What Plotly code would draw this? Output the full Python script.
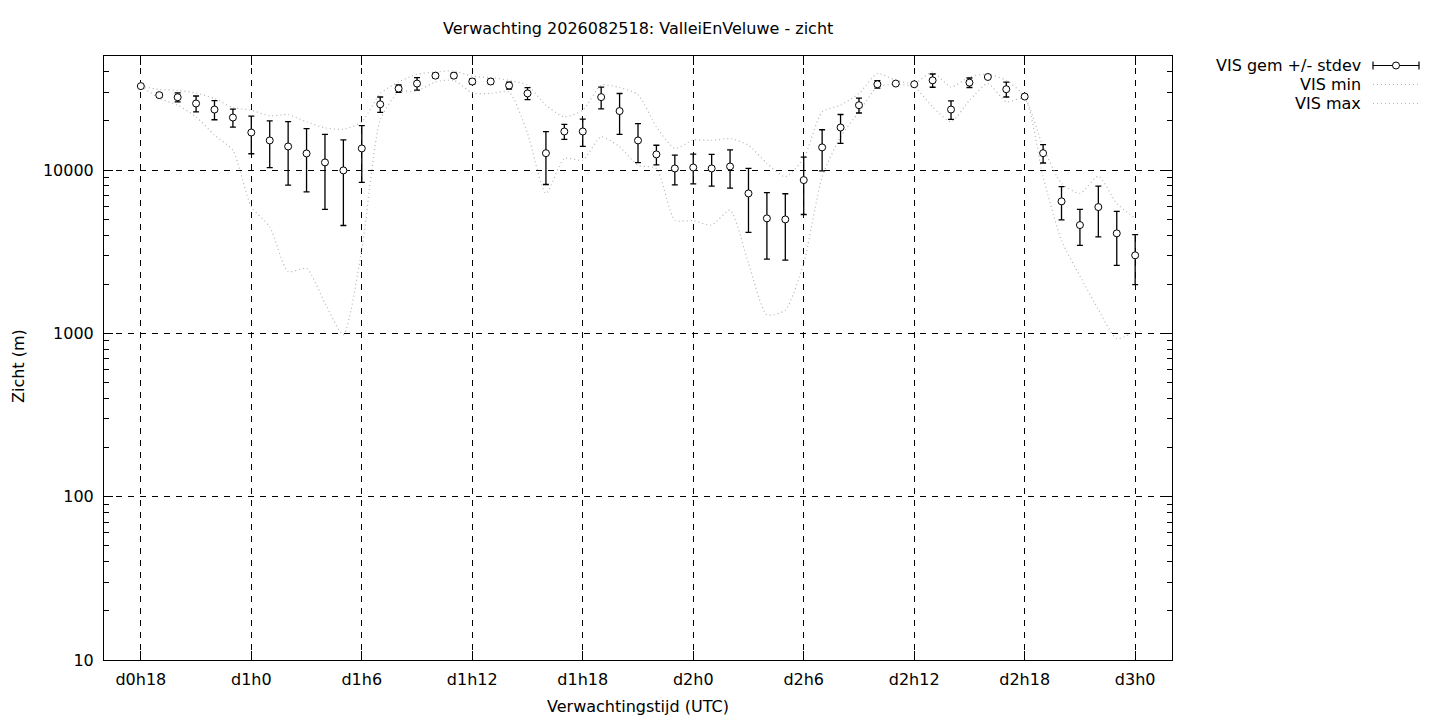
import plotly.graph_objects as go
import numpy as np

# forecast hours (relative to d0h0)
hours = list(range(18, 73))

vis_mean = [32700, 28800, 27960, 25600, 23500, 21000, 17000, 15200, 13960, 12650,
            11150, 9960, 13580, 25300, 31600, 33900, 37900, 37900, 34900, 34900,
            33000, 29500, 12700, 17250, 17250, 28000, 23000, 15200, 12480, 10240,
            10380, 10240, 10530, 7200, 5065, 4990, 8690, 13780, 18240, 24980,
            33570, 33900, 33570, 35480, 23500, 34360, 37200, 31300, 28230, 12700,
            6437, 4610, 5940, 4100, 3008]

vis_std = [0, 850, 1750, 2850, 3150, 2650, 4400, 4850, 5860, 5300,
           5400, 5380, 5170, 2750, 1625, 2980, 1180, 1340, 1270, 1185,
           1600, 2500, 4535, 1800, 3265, 4275, 6465, 4075, 1725, 2120,
           2150, 2265, 2770, 3040, 2210, 2180, 3340, 3890, 3670, 2600,
           1775, 0, 0, 3300, 3050, 2300, 0, 3260, 0, 1645,
           1480, 1145, 2035, 1490, 1016]

vis_min = [32700, 27500, 25000, 21200, 16400, 13200, 5970, 4500, 2390, 2500,
           1530, 980, 3250, 20200, 30100, 30500, 34700, 35500, 29700, 29500,
           30100, 16800, 7200, 11800, 11500, 16000, 13900, 10700, 10240, 4940,
           4900, 4610, 5690, 2690, 1300, 1390, 2690, 9100, 16000, 22750,
           32300, 33570, 32300, 24400, 19750, 26800, 33900, 26200, 27450, 9100,
           3700, 2250, 1400, 930, 1030]

vis_max = [32700, 31200, 30800, 29700, 27500, 24200, 23300, 21500, 21900, 19750,
           18150, 17800, 19750, 29450, 34700, 38650, 39900, 40500, 37600, 36900,
           35500, 33100, 25000, 21200, 23300, 33100, 32050, 29000, 18400, 13600,
           15300, 15200, 15600, 14200, 11000, 9100, 11800, 22750, 25000, 29450,
           39000, 35500, 33900, 39900, 32300, 37200, 38650, 35500, 28230, 13900,
           8290, 7200, 9190, 6250, 5070]

x_tickvals = [18, 24, 30, 36, 42, 48, 54, 60, 66, 72]
x_ticktext = ["d0h18", "d1h0", "d1h6", "d1h12", "d1h18", "d2h0", "d2h6", "d2h12", "d2h18", "d3h0"]
y_tickvals = [10, 100, 1000, 10000]
y_ticktext = ["10", "100", "1000", "10000"]
y_minor = [m * 10 ** e for e in range(1, 5) for m in range(2, 10) if m * 10 ** e <= 50000]

title_text = "Verwachting 2026082518: ValleiEnVeluwe - zicht"
x_title = "Verwachtingstijd (UTC)"
y_title = "Zicht (m)"
legend_labels = ["VIS gem +/- stdev", "VIS min", "VIS max"]

FONT = "DejaVu Sans"
FS = 16
OFF = 8  # page body margin
W, H = 1440 - OFF, 720 - OFF
# plot area in page pixels
L, R, T, B = 104, 1172, 56, 660
DOT = "1px,3px"
DOTCOL = "#b4b4b4"


def px(xp):
    return (xp - L) / (R - L)


def py(yp):
    return (B - yp) / (B - T)


fig = go.Figure()

fig.add_trace(go.Scatter(
    x=hours, y=vis_min, mode="lines", name=legend_labels[1],
    line=dict(color=DOTCOL, width=1.2, dash=DOT, shape="spline", smoothing=0.6),
    showlegend=False, hoverinfo="skip"))
fig.add_trace(go.Scatter(
    x=hours, y=vis_max, mode="lines", name=legend_labels[2],
    line=dict(color=DOTCOL, width=1.2, dash=DOT, shape="spline", smoothing=0.6),
    showlegend=False, hoverinfo="skip"))
fig.add_trace(go.Scatter(
    x=hours, y=vis_mean, mode="markers", name=legend_labels[0],
    marker=dict(symbol="circle", size=7, color="white", line=dict(color="black", width=1)),
    error_y=dict(type="data", array=vis_std, symmetric=True, color="black", thickness=1.3, width=3),
    showlegend=False))

axis_common = dict(
    showline=True, linecolor="black", linewidth=1, mirror="ticks",
    ticks="inside", tickcolor="black", ticklen=9, tickwidth=1,
    showgrid=True, gridcolor="black", gridwidth=1, griddash="6px,6px",
    zeroline=False, tickfont=dict(family=FONT, size=FS, color="black"),
)

fig.update_xaxes(range=[16, 74], tickmode="array", tickvals=x_tickvals, ticktext=x_ticktext,
                 ticklabelstandoff=5, **axis_common)
fig.update_yaxes(type="log", range=[1, np.log10(50000)], tickmode="array",
                 tickvals=y_tickvals, ticktext=y_ticktext, ticklabelstandoff=6,
                 minor=dict(tickvals=y_minor, ticks="inside", ticklen=5, tickcolor="black",
                            showgrid=False),
                 **axis_common)

annotations = [
    dict(text=title_text, xref="paper", yref="paper", x=px(638), y=py(29),
         xanchor="center", yanchor="middle", showarrow=False,
         font=dict(family=FONT, size=FS, color="black")),
    dict(text=x_title, xref="paper", yref="paper", x=px(638), y=py(706),
         xanchor="center", yanchor="middle", showarrow=False,
         font=dict(family=FONT, size=FS, color="black")),
    dict(text=y_title, xref="paper", yref="paper", x=px(18), y=py(366), textangle=-90,
         xanchor="center", yanchor="middle", showarrow=False,
         font=dict(family=FONT, size=FS, color="black")),
]
legend_y = [65.5, 84.5, 103.5]
for lab, ly in zip(legend_labels, legend_y):
    annotations.append(dict(text=lab, xref="paper", yref="paper", x=px(1363), y=py(ly),
                            xanchor="right", yanchor="middle", showarrow=False,
                            font=dict(family=FONT, size=FS, color="black")))

shapes = []
# legend sample: error bar with circle
ly = legend_y[0]
shapes.append(dict(type="line", xref="paper", yref="paper", x0=px(1373), x1=px(1419), y0=py(ly), y1=py(ly),
                   line=dict(color="black", width=1.2)))
for xe in (1373, 1419):
    shapes.append(dict(type="line", xref="paper", yref="paper", x0=px(xe), x1=px(xe), y0=py(ly - 4), y1=py(ly + 4),
                       line=dict(color="black", width=1.2)))
shapes.append(dict(type="circle", xref="paper", yref="paper", x0=px(1392.5), x1=px(1399.5),
                   y0=py(ly + 3.5), y1=py(ly - 3.5), fillcolor="white", line=dict(color="black", width=1)))
for ly in legend_y[1:]:
    shapes.append(dict(type="line", xref="paper", yref="paper", x0=px(1373), x1=px(1419), y0=py(ly), y1=py(ly),
                       line=dict(color=DOTCOL, width=1.2, dash=DOT)))

fig.update_layout(
    width=W, height=H, autosize=False,
    margin=dict(l=L - OFF, r=W - (R - OFF), t=T - OFF, b=H - (B - OFF), pad=0),
    paper_bgcolor="white", plot_bgcolor="white",
    annotations=annotations, shapes=shapes,
    font=dict(family=FONT, size=FS, color="black"),
    showlegend=False,
)

fig.write_html("out.html")
